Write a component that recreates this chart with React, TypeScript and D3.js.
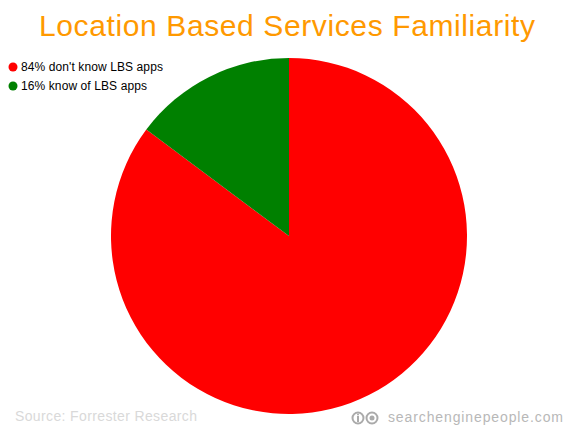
import React from "react";
import * as d3 from "d3";

const labels = ["84% don't know LBS apps", "16% know of LBS apps"];
const values = [85.2, 14.8];
const colors = ["#ff0000", "#008000"];
const title = "Location Based Services Familiarity";
const source = "Source: Forrester Research";
const site = "searchenginepeople.com";

export default function App() {
  const pie = d3.pie<number>().sort(null)(values);
  const arc = d3.arc<d3.PieArcDatum<number>>().innerRadius(0).outerRadius(178);
  return (
    <svg width={576} height={428} style={{ position: "absolute", left: 0, top: 0, fontFamily: "Arial, Liberation Sans, sans-serif" }}>
      <rect width={576} height={428} fill="#fff" />
      <text x={39} y={36} fontSize={30} fill="#ff9900" textLength={496}>{title}</text>
      {labels.map((l, i) => (
        <g key={l} transform={`translate(13,${67 + i * 19})`}>
          <circle r={4.5} fill={colors[i]} />
          <text x={8} y={4} fontSize={12} fill="#000" letterSpacing={0.1}>{l}</text>
        </g>
      ))}
      <g transform="translate(289,236)">
        {pie.map((p, i) => <path key={i} d={arc(p) ?? ""} fill={colors[i]} />)}
      </g>
      <text x={15} y={421} fontSize={14} fill="#d9d9d9" textLength={182}>{source}</text>
      <g fill="none" stroke="#aaa" strokeWidth={2}>
        <circle cx={358} cy={418} r={5.5} />
        <circle cx={372} cy={418} r={5.5} />
      </g>
      <rect x={357} y={416} width={2} height={6} fill="#aaa" />
      <circle cx={358} cy={414.5} r={1} fill="#aaa" />
      <circle cx={372} cy={418} r={2.5} fill="#aaa" />
      <text x={388} y={422} fontSize={14} fill="#b8b8b8" textLength={175}>{site}</text>
    </svg>
  );
}
